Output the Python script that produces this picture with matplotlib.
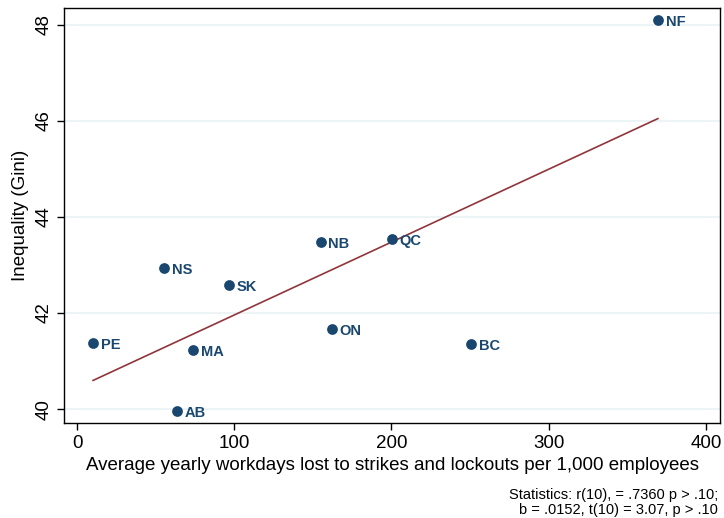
import numpy as np
import matplotlib
matplotlib.use("Agg")
import matplotlib.pyplot as plt

plt.rcParams['font.family'] = ['Liberation Sans', 'DejaVu Sans']

# data
provinces = ['NF', 'QC', 'NB', 'NS', 'SK', 'ON', 'BC', 'PE', 'MA', 'AB']
workdays = [369.5, 200.3, 155.0, 55.3, 96.7, 162.2, 250.6, 10.2, 73.8, 63.6]
gini = [48.10, 43.54, 43.48, 42.94, 42.58, 41.67, 41.35, 41.37, 41.23, 39.96]

xticks = [0, 100, 200, 300, 400]
yticks = [40, 42, 44, 46, 48]

navy = '#1a476f'
maroon = '#90353b'

fig = plt.figure(figsize=(7.24, 5.18), dpi=100)
ax = fig.add_axes([0.0884, 0.1834, 0.9061, 0.8012])

x = np.array(workdays)
y = np.array(gini)

# grid
for t in yticks:
    ax.axhline(t, color='#eaf2f3', lw=1.2, zorder=0)

# fitted line
b, a = np.polyfit(x, y, 1)
xs = np.array([x.min(), x.max()])
ax.plot(xs, a + b*xs, color=maroon, lw=1.2, zorder=2)

ax.scatter(x, y, s=60, color=navy, zorder=3, linewidths=0)
for lab, xi, yi in zip(provinces, x, y):
    ax.annotate(lab, (xi, yi), xytext=(5.5, -1.5), textcoords='offset points',
                va='center', ha='left', fontsize=10.5, fontweight='bold',
                color=navy, zorder=4)

ax.set_xlim(-8.3, 409)
ax.set_ylim(39.71, 48.35)
ax.set_xticks(xticks)
ax.set_yticks(yticks)
ax.tick_params(axis='both', length=5, width=1, labelsize=13.5, pad=4)
ax.tick_params(axis='y', pad=3)
for lbl in ax.get_yticklabels():
    lbl.set_rotation(90)
    lbl.set_va('center')
ax.set_xlabel('Average yearly workdays lost to strikes and lockouts per 1,000 employees',
              fontsize=13.5, labelpad=3)
ax.set_ylabel('Inequality (Gini)', fontsize=13.5, labelpad=5)
for s in ax.spines.values():
    s.set_linewidth(1)

fig.text(0.992, 0.03, 'Statistics: r(10), = .7360 p > .10;\nb = .0152, t(10) = 3.07, p > .10',
         ha='right', va='center', fontsize=10.5, linespacing=1.05)

fig.savefig('out.png', dpi=100)
